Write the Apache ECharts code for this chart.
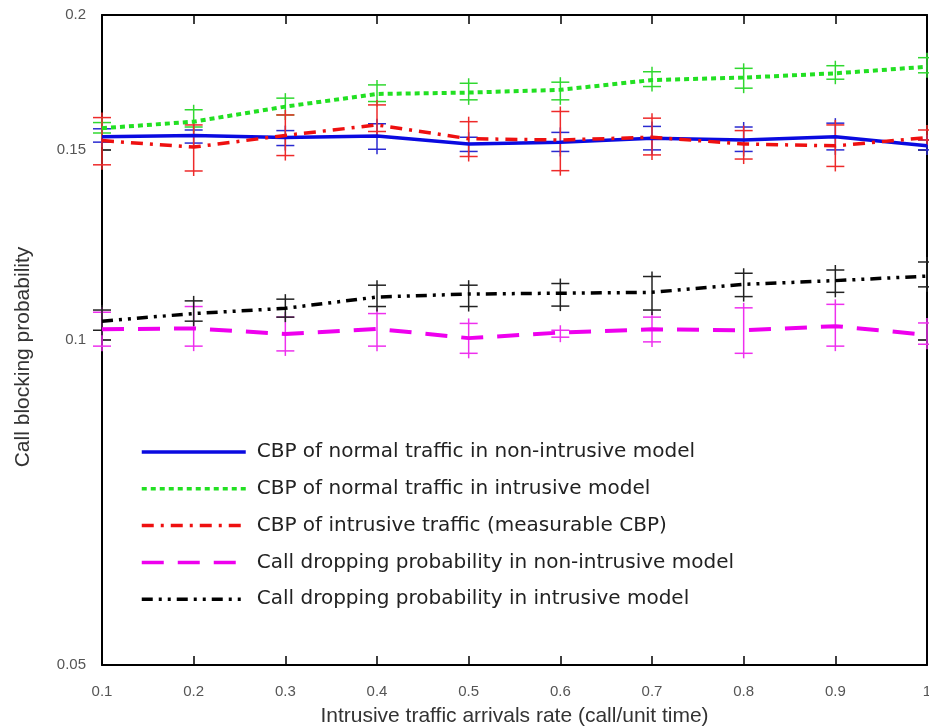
<!DOCTYPE html>
<html><head><meta charset="utf-8">
<script src="https://cdn.jsdelivr.net/npm/echarts@6/dist/echarts.min.js"></script>
<style>html,body{margin:0;padding:0;background:#fff}#c{width:929px;height:728px}</style>
</head><body><div id="c"></div><script>
const xValues = [0.1, 0.2, 0.3, 0.4, 0.5, 0.6, 0.7, 0.8, 0.9, 1.0];
const yTickValues = [0.05, 0.1, 0.15, 0.2];
const seriesNames = [
  'CBP of normal traffic in non-intrusive model',
  'CBP of normal traffic in intrusive model',
  'CBP of intrusive traffic (measurable CBP)',
  'Call dropping probability in non-intrusive model',
  'Call dropping probability in intrusive model'
];
// CBP of normal traffic in non-intrusive model (blue)
const blueMean  = [0.1543, 0.1547, 0.1540, 0.1545, 0.1519, 0.1525, 0.1538, 0.1532, 0.1543, 0.1513];
const blueUpper = [0.1569, 0.1565, 0.1563, 0.1586, 0.1541, 0.1557, 0.1577, 0.1575, 0.1588, 0.1532];
const blueLower = [0.1525, 0.1522, 0.1514, 0.1502, 0.1495, 0.1495, 0.1500, 0.1495, 0.1500, 0.1500];
// CBP of normal traffic in intrusive model (green)
const greenMean  = [0.1571, 0.1593, 0.1645, 0.1690, 0.1695, 0.1705, 0.1741, 0.1750, 0.1766, 0.1791];
const greenUpper = [0.1590, 0.1634, 0.1675, 0.1723, 0.1729, 0.1733, 0.1772, 0.1785, 0.1795, 0.1826];
const greenLower = [0.1555, 0.1575, 0.1616, 0.1663, 0.1669, 0.1669, 0.1717, 0.1711, 0.1744, 0.1768];
// CBP of intrusive traffic (red)
const redMean  = [0.1530, 0.1509, 0.1547, 0.1582, 0.1536, 0.1532, 0.1541, 0.1519, 0.1513, 0.1540];
const redUpper = [0.1607, 0.1582, 0.1616, 0.1651, 0.1593, 0.1628, 0.1605, 0.1563, 0.1582, 0.1565];
const redLower = [0.1453, 0.1434, 0.1482, 0.1560, 0.1479, 0.1435, 0.1484, 0.1471, 0.1448, 0.1532];
// Call dropping probability in non-intrusive model (magenta)
const magentaMean  = [0.1023, 0.1025, 0.1013, 0.1024, 0.1004, 0.1016, 0.1023, 0.1021, 0.1030, 0.1011];
const magentaUpper = [0.1061, 0.1074, 0.1050, 0.1058, 0.1036, 0.1021, 0.1050, 0.1071, 0.1079, 0.1037];
const magentaLower = [0.0987, 0.0987, 0.0977, 0.0987, 0.0972, 0.1006, 0.0996, 0.0972, 0.0987, 0.0991];
// Call dropping probability in intrusive model (black)
const blackMean  = [0.1041, 0.1058, 0.1070, 0.1096, 0.1103, 0.1105, 0.1107, 0.1126, 0.1135, 0.1146];
const blackUpper = [0.1066, 0.1087, 0.1091, 0.1124, 0.1124, 0.1128, 0.1145, 0.1153, 0.1161, 0.1181];
const blackLower = [0.1021, 0.1041, 0.1050, 0.1074, 0.1074, 0.1075, 0.1066, 0.1097, 0.1107, 0.1120];

const chart = echarts.init(document.getElementById('c'));

function lineSeries(name, color, mean, type, width) {
  return {
    type: 'line', name: name, symbol: 'none', z: 3,
    data: xValues.map((x, i) => [x, mean[i]]),
    lineStyle: { color: color, width: width, type: type },
    itemStyle: { color: color },
    silent: true
  };
}
function errorSeries(color, upper, lower) {
  return {
    type: 'custom', z: 2, silent: true,
    data: xValues.map((x, i) => [x, lower[i], upper[i]]),
    encode: { x: 0, y: [1, 2] },
    renderItem: function (params, api) {
      const x = api.value(0);
      const lo = api.coord([x, api.value(1)]);
      const hi = api.coord([x, api.value(2)]);
      const hw = 9, ext = 5;
      const st = { stroke: color, lineWidth: 1.5 };
      return {
        type: 'group', children: [
          { type: 'line', shape: { x1: lo[0], y1: hi[1] - ext, x2: lo[0], y2: lo[1] + ext }, style: st },
          { type: 'line', shape: { x1: lo[0] - hw, y1: hi[1], x2: lo[0] + hw, y2: hi[1] }, style: st },
          { type: 'line', shape: { x1: lo[0] - hw, y1: lo[1], x2: lo[0] + hw, y2: lo[1] }, style: st }
        ]
      };
    }
  };
}

const axisFont = { color: '#555', fontSize: 15, fontFamily: 'Liberation Sans, sans-serif' };

chart.setOption({
  backgroundColor: '#fff',
  animation: false,
  grid: { left: 102, right: 2, top: 15, bottom: 63, show: false, outerBoundsMode: 'none', containLabel: false },
  legend: {
    orient: 'vertical', left: 140, top: 442, padding: 0,
    itemWidth: 104, itemHeight: 20, itemGap: 16.8,
    data: seriesNames,
    itemStyle: { opacity: 0 },
    lineStyle: { width: 3.5 },
    textStyle: { fontSize: 20, color: '#222', lineHeight: 20, fontFamily: 'DejaVu Sans, sans-serif', padding: [0, 0, 0, 6] },
    selectedMode: false
  },
  xAxis: [{
    type: 'value', min: 0.1, max: 1, interval: 0.1,
    name: 'Intrusive traffic arrivals rate (call/unit time)',
    nameLocation: 'middle', nameGap: 41,
    nameTextStyle: { fontSize: 21, color: '#333', fontFamily: 'Liberation Sans, sans-serif' },
    axisLine: { lineStyle: { color: '#000', width: 2 } },
    axisTick: { inside: true, length: 9, lineStyle: { color: '#000', width: 1.5 } },
    axisLabel: Object.assign({ margin: 19, formatter: v => String(+v.toFixed(1)) }, axisFont),
    splitLine: { show: false }
  }, {
    type: 'value', min: 0.1, max: 1, interval: 0.1, position: 'top',
    axisLine: { lineStyle: { color: '#000', width: 2 } },
    axisTick: { inside: true, length: 9, lineStyle: { color: '#000', width: 1.5 } },
    axisLabel: { show: false }, splitLine: { show: false }
  }],
  yAxis: [{
    type: 'log', min: 0.05, max: 0.2,
    name: 'Call blocking probability',
    nameLocation: 'middle', nameGap: 68,
    nameTextStyle: { fontSize: 21, color: '#333', fontFamily: 'Liberation Sans, sans-serif', padding: [0, 34, 0, 0] },
    axisLine: { lineStyle: { color: '#000', width: 2 } },
    axisTick: { inside: true, length: 9, customValues: yTickValues, lineStyle: { color: '#000', width: 1.5 } },
    axisLabel: Object.assign({ margin: 16, customValues: yTickValues }, axisFont),
    splitLine: { show: false }, minorTick: { show: false }
  }, {
    type: 'log', min: 0.05, max: 0.2, position: 'right',
    axisLine: { lineStyle: { color: '#000', width: 2 } },
    axisTick: { inside: true, length: 9, customValues: yTickValues, lineStyle: { color: '#000', width: 1.5 } },
    axisLabel: { show: false }, splitLine: { show: false }
  }],
  series: [
    errorSeries('#2a2ad0', blueUpper, blueLower),
    errorSeries('#30d830', greenUpper, greenLower),
    errorSeries('#ee2a2a', redUpper, redLower),
    errorSeries('#ee30ee', magentaUpper, magentaLower),
    errorSeries('#222222', blackUpper, blackLower),
    lineSeries(seriesNames[0], '#0a0ae0', blueMean, 'solid', 3.5),
    lineSeries(seriesNames[1], '#22e022', greenMean, [5, 4], 4),
    lineSeries(seriesNames[2], '#ee1010', redMean, [12, 7, 3, 7], 3.5),
    lineSeries(seriesNames[3], '#ee00ee', magentaMean, [22, 14], 4),
    lineSeries(seriesNames[4], '#000000', blackMean, [11, 6, 3, 6, 3, 6], 3.5)
  ]
});
</script></body></html>
